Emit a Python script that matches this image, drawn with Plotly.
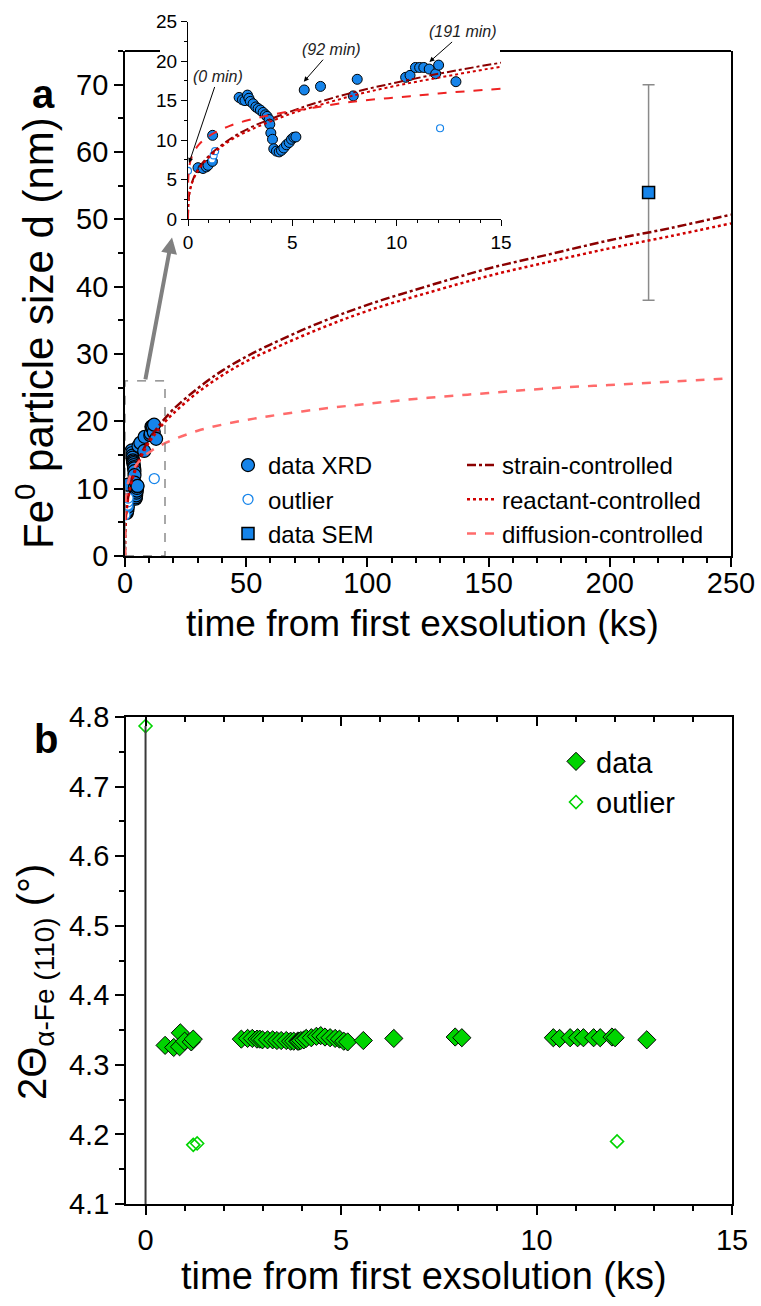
import plotly.graph_objects as go

# ---------------- data ----------------
# panel a: XRD particle size (ks, nm)
xrd_t = [0.48, 0.72, 0.88, 0.96, 1.17, 1.18, 2.45, 2.61, 2.73, 2.85, 2.92, 2.99, 3.12, 3.25,
         3.36, 3.47, 3.60, 3.71, 3.79, 3.89, 3.92, 3.97, 4.05, 4.11, 4.24, 4.37, 4.48, 4.59,
         4.72, 4.85, 4.96, 5.07, 5.17, 5.57, 6.35, 7.92, 8.11, 10.43, 10.64, 10.90, 11.10,
         11.30, 11.56, 11.87, 12.01, 12.84]
xrd_d = [6.5, 6.4, 6.6, 6.8, 7.3, 10.6, 15.4, 15.1, 15.0, 15.7, 15.3, 14.9, 14.6, 14.2,
         14.0, 13.8, 13.5, 13.2, 13.0, 12.6, 12.0, 10.9, 10.1, 8.9, 8.6, 8.5, 8.7, 9.0,
         9.4, 9.7, 10.1, 10.35, 10.4, 16.35, 16.8, 15.6, 17.7, 17.95, 18.2, 19.2, 19.2,
         19.2, 19.0, 18.4, 19.5, 17.4]
out_t = [0.0, 1.15, 1.23, 1.30, 12.08]
out_d = [6.1, 7.55, 8.05, 8.6, 11.5]
sem_t = [216]
sem_d = [54]
sem_err = [16]

# model curves
curve_t = [0, 0.05, 0.2, 0.5, 1, 2, 3, 4, 5, 6, 8, 10, 12, 15, 20, 30, 40, 50, 60, 80,
           100, 125, 150, 175, 200, 225, 250]
strain_d = [0, 3.0, 4.7, 6.4, 8.0, 10.1, 11.6, 12.7, 13.7, 14.6, 16.1, 17.3, 18.4, 19.8,
            21.8, 24.9, 27.5, 29.6, 31.4, 34.6, 37.3, 40.1, 42.7, 44.8, 46.9, 48.7, 50.7]
reactant_d = [0, 2.9, 4.6, 6.2, 7.8, 9.9, 11.3, 12.4, 13.4, 14.2, 15.7, 16.9, 17.9, 19.3,
              21.2, 24.3, 26.8, 28.9, 30.6, 33.7, 36.4, 39.1, 41.6, 43.7, 45.7, 47.5, 49.4]
diffusion_d = [0, 6.4, 8.0, 9.35, 10.5, 11.8, 12.6, 13.2, 13.7, 14.1, 14.9, 15.4, 15.9, 16.5,
               17.3, 18.6, 19.5, 20.2, 20.8, 21.8, 22.6, 23.5, 24.2, 24.9, 25.4, 25.9, 26.4]

# panel b: 2theta of alpha-Fe (110)
b_t = [0.50, 0.72, 0.87, 0.89, 1.00, 1.17, 1.22, 2.45, 2.61, 2.73, 2.85, 2.92, 2.99, 3.12,
       3.25, 3.36, 3.47, 3.60, 3.71, 3.79, 3.89, 3.92, 3.97, 4.05, 4.11, 4.24, 4.37, 4.48,
       4.59, 4.72, 4.85, 4.96, 5.07, 5.17, 5.57, 6.35, 7.92, 8.09, 10.43, 10.59, 10.86,
       11.05, 11.20, 11.46, 11.63, 11.93, 12.01, 12.82]
b_y = [4.328, 4.325, 4.326, 4.346, 4.334, 4.333, 4.337, 4.337, 4.338, 4.338, 4.337, 4.337,
       4.336, 4.336, 4.336, 4.335, 4.335, 4.335, 4.334, 4.334, 4.334, 4.334, 4.335, 4.336,
       4.338, 4.339, 4.341, 4.342, 4.340, 4.339, 4.338, 4.337, 4.334, 4.333, 4.335, 4.338,
       4.340, 4.339, 4.339, 4.338, 4.339, 4.339, 4.339, 4.339, 4.339, 4.340, 4.339, 4.336]
b_out_t = [0.0, 1.22, 1.32, 12.06]
b_out_y = [4.787, 4.185, 4.187, 4.190]

# ---------------- style ----------------
W, H = 761, 1306
FONT = "Liberation Sans, Arial, sans-serif"
BLUE = "#1684EA"
GREEN = "#00D400"
DARKRED = "#8B0000"
RED = "#D00000"
PINK = "#FF6B6B"


def px(x):
    return x / W


def py(y):
    return 1 - y / H


fig = go.Figure()

# ----- panel a main -----
fig.add_trace(go.Scatter(x=xrd_t, y=xrd_d, mode="markers", name="data XRD",
                         marker=dict(size=13, color=BLUE, line=dict(color="black", width=1.2)),
                         xaxis="x", yaxis="y", legend="legend"))
fig.add_trace(go.Scatter(x=out_t, y=out_d, mode="markers", name="outlier",
                         marker=dict(size=10, color="white", symbol="circle",
                                     line=dict(color=BLUE, width=1.3)),
                         xaxis="x", yaxis="y", legend="legend"))
fig.add_trace(go.Scatter(x=sem_t, y=sem_d, mode="markers", name="data SEM",
                         marker=dict(size=12, color=BLUE, symbol="square",
                                     line=dict(color="black", width=1.5)),
                         error_y=dict(type="data", array=sem_err, color="#8a8a8a",
                                      thickness=1.5, width=6),
                         xaxis="x", yaxis="y", legend="legend"))
fig.add_trace(go.Scatter(x=curve_t, y=strain_d, mode="lines", name="strain-controlled",
                         line=dict(color=DARKRED, width=2.5, dash="dashdot", shape="spline"),
                         xaxis="x", yaxis="y", legend="legend2"))
fig.add_trace(go.Scatter(x=curve_t, y=reactant_d, mode="lines", name="reactant-controlled",
                         line=dict(color=RED, width=2.5, dash="dot", shape="spline"),
                         xaxis="x", yaxis="y", legend="legend2"))
fig.add_trace(go.Scatter(x=curve_t, y=diffusion_d, mode="lines", name="diffusion-controlled",
                         line=dict(color=PINK, width=2.5, dash="dash", shape="spline"),
                         xaxis="x", yaxis="y", legend="legend2"))

# ----- inset -----
fig.add_trace(go.Scatter(x=xrd_t, y=xrd_d, mode="markers", showlegend=False,
                         marker=dict(size=10, color=BLUE, line=dict(color="black", width=1)),
                         xaxis="x2", yaxis="y2"))
fig.add_trace(go.Scatter(x=out_t, y=out_d, mode="markers", showlegend=False,
                         marker=dict(size=7, color="white", symbol="circle",
                                     line=dict(color=BLUE, width=1.2)),
                         xaxis="x2", yaxis="y2"))
fig.add_trace(go.Scatter(x=curve_t, y=strain_d, mode="lines", showlegend=False,
                         line=dict(color=DARKRED, width=2, dash="dashdot", shape="spline"),
                         xaxis="x2", yaxis="y2"))
fig.add_trace(go.Scatter(x=curve_t, y=reactant_d, mode="lines", showlegend=False,
                         line=dict(color=RED, width=2, dash="dot", shape="spline"),
                         xaxis="x2", yaxis="y2"))
fig.add_trace(go.Scatter(x=curve_t, y=diffusion_d, mode="lines", showlegend=False,
                         line=dict(color="#EE2222", width=2, dash="dash", shape="spline"),
                         xaxis="x2", yaxis="y2"))

# ----- panel b -----
fig.add_trace(go.Scatter(x=b_t, y=b_y, mode="markers", name="data",
                         marker=dict(size=14, symbol="diamond", color=GREEN,
                                     line=dict(color="black", width=1)),
                         xaxis="x3", yaxis="y3", legend="legend3"))
fig.add_trace(go.Scatter(x=b_out_t, y=b_out_y, mode="markers", name="outlier",
                         marker=dict(size=10, symbol="diamond-open", color=GREEN,
                                     line=dict(color=GREEN, width=1.6)),
                         xaxis="x3", yaxis="y3", legend="legend3"))
fig.add_trace(go.Scatter(x=[], y=[], showlegend=False, xaxis="x4", yaxis="y3"))

tickfont = dict(family=FONT, size=29, color="black")
axis_common = dict(showgrid=False, zeroline=False, showline=True, linecolor="black",
                   linewidth=1.8, ticks="outside", tickcolor="black", tickwidth=1.5,
                   ticklen=9, tickfont=tickfont, automargin=False)

fig.update_layout(
    width=W, height=H, margin=dict(l=0, r=0, t=0, b=0),
    paper_bgcolor="white", plot_bgcolor="white",
    font=dict(family=FONT, color="black"),
    xaxis=dict(**axis_common, domain=[px(125), px(731)], range=[0, 250], anchor="y",
               dtick=50, ticklabelstandoff=-9,
               minor=dict(dtick=10, ticks="outside", ticklen=5, tickcolor="black")),
    yaxis=dict(**axis_common, domain=[py(556), py(51)], range=[0, 75], anchor="x",
               dtick=10, mirror=True,
               minor=dict(dtick=5, ticks="outside", ticklen=5, tickcolor="black")),
    xaxis2=dict(showgrid=False, zeroline=False, showline=True, linecolor="black",
                linewidth=1.2, ticks="outside", ticklen=6, tickcolor="black", automargin=False,
                domain=[px(188), px(501)], range=[0, 15], anchor="y2", dtick=5,
                tickfont=dict(family=FONT, size=19),
                minor=dict(dtick=1, ticks="outside", ticklen=3, tickcolor="black")),
    yaxis2=dict(showgrid=False, zeroline=False, showline=True, linecolor="black",
                linewidth=1.2, ticks="outside", ticklen=6, tickcolor="black", automargin=False,
                domain=[py(219), py(21.7)], range=[0, 25], anchor="x2", dtick=5,
                tickfont=dict(family=FONT, size=19),
                minor=dict(dtick=2.5, ticks="outside", ticklen=3, tickcolor="black")),
    xaxis3=dict(**axis_common, domain=[px(126), px(732)], range=[-0.5, 15], anchor="y3",
                dtick=5, minor=dict(dtick=1, ticks="outside", ticklen=5, tickcolor="black")),
    xaxis4=dict(showgrid=False, zeroline=False, showline=True, linecolor="black",
                linewidth=1.8, overlaying="x3", side="top", anchor="y3", automargin=False,
                range=[-0.5, 15], dtick=5, ticks="inside", ticklen=9, tickcolor="black",
                tickwidth=1.5, showticklabels=False,
                minor=dict(dtick=1, ticks="inside", ticklen=5, tickcolor="black")),
    yaxis3=dict(**axis_common, domain=[py(1204), py(717)], range=[4.1, 4.8], anchor="x3",
                dtick=0.1, tickformat=".1f", mirror=True,
                minor=dict(dtick=0.05, ticks="outside", ticklen=5, tickcolor="black")),
    legend=dict(x=px(228), y=py(443), xanchor="left", yanchor="top",
                font=dict(family=FONT, size=24), bgcolor="rgba(0,0,0,0)",
                tracegroupgap=0, itemsizing="trace"),
    legend2=dict(x=px(462), y=py(443), xanchor="left", yanchor="top",
                 font=dict(family=FONT, size=24), bgcolor="rgba(0,0,0,0)"),
    legend3=dict(x=px(556), y=py(736), xanchor="left", yanchor="top",
                 font=dict(family=FONT, size=29), bgcolor="rgba(0,0,0,0)"),
)

# axis titles
for txt, xx, yy, ang, size in [
        ("time from first exsolution (ks)", 422, 624, 0, 37),
        ("Fe<sup>0</sup> particle size d (nm)", 35, 333, -90, 42),
        ("time from first exsolution (ks)", 424, 1276, 0, 38),
        ("2\u0398<sub>\u03b1-Fe (110)</sub> (\u00b0)", 35, 982, -90, 40)]:
    fig.add_annotation(x=px(xx), y=py(yy), xref="paper", yref="paper", text=txt,
                       textangle=ang, showarrow=False, xanchor="center", yanchor="middle",
                       font=dict(family=FONT, size=size, color="black"))

# top border of panel a (interrupted by inset) and dashed zoom box
fig.add_shape(type="line", xref="paper", yref="paper", x0=px(125), x1=px(160),
              y0=py(51), y1=py(51), line=dict(color="black", width=1.8))
fig.add_shape(type="line", xref="paper", yref="paper", x0=px(500), x1=px(731),
              y0=py(51), y1=py(51), line=dict(color="black", width=1.8))
fig.add_shape(type="rect", xref="x", yref="y", x0=0, x1=16.5, y0=0, y1=26,
              line=dict(color="#7a7a7a", width=1.3, dash="dash"))
# vertical drop line of the first outlier in panel b
fig.add_shape(type="line", xref="x3", yref="y3", x0=b_out_t[0], x1=b_out_t[0],
              y0=4.1, y1=b_out_y[0], line=dict(color="#3a3a3a", width=2))

# gray arrow from zoom box to inset
fig.add_annotation(x=19.4, y=47.3, ax=8.3, ay=26, xref="x", yref="y", axref="x", ayref="y",
                   text="", showarrow=True, arrowhead=2, arrowsize=0.8, arrowwidth=4,
                   arrowcolor="#808080")

# inset time annotations
for txt, xx, yy, dx, dy in [("(0 min)", 0.05, 7.1, 29, -86),
                            ("(92 min)", 5.55, 17.4, 28, -32),
                            ("(191 min)", 11.57, 19.9, 34, -30)]:
    fig.add_annotation(x=xx, y=yy, xref="x2", yref="y2", ax=dx, ay=dy, text="<i>%s</i>" % txt,
                       showarrow=True, arrowhead=2, arrowsize=1, arrowwidth=1,
                       arrowcolor="black", font=dict(family=FONT, size=16, color="#222"))

# panel labels
fig.add_annotation(x=px(30), y=py(70), xref="paper", yref="paper", text="<b>a</b>",
                   showarrow=False, font=dict(family=FONT, size=40, color="black"))
fig.add_annotation(x=px(32), y=py(739), xref="paper", yref="paper", text="<b>b</b>",
                   showarrow=False, font=dict(family=FONT, size=40, color="black"))

fig.write_html("out.html", config={"displayModeBar": False},
               post_script="document.body.style.margin='0';")
